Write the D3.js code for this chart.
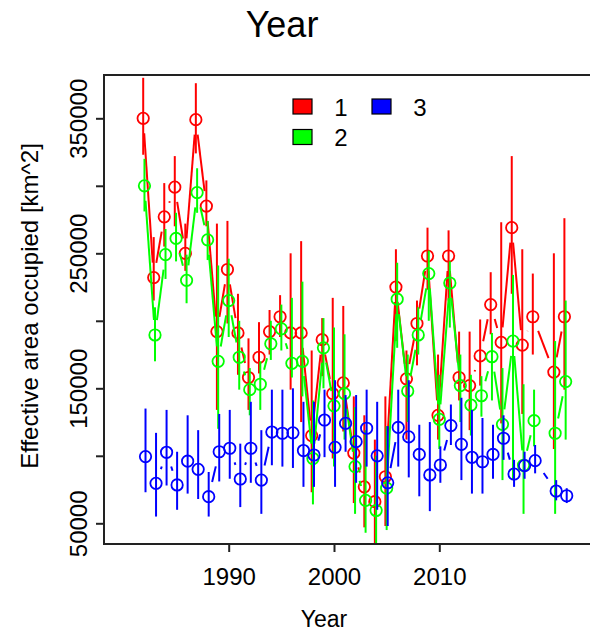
<!DOCTYPE html>
<html>
<head>
<meta charset="utf-8">
<script src="https://cdn.jsdelivr.net/npm/d3@7"></script>
<style>
  body { margin: 0; background: #fff; }
  svg { display: block; font-family: "Liberation Sans", Arial, sans-serif; }
</style>
</head>
<body>
<div id="chart"></div>
<script>
// values in thousands of km^2
const years = [1982,1983,1984,1985,1986,1987,1988,1989,1990,1991,1992,1993,1994,1995,1996,1997,1998,1999,2000,2001,
               2002,2003,2004,2005,2006,2007,2008,2009,2010,2011,2012,2013,2014,2015,2016,2017,2018,2019,2021,2022]

const area1 = [350,232,277,299,250,349,285,192,238,191,158,173,192,203,191,191,115,186,146,154,
               102,77,66,84.5,225,157,198,248,130,248,158,152,174,212,184,269,182,203,162,203]
const lo1 = [323,215,255,270,237,324,270,134,198,160,134,161,175,188,149,125,73,159,98,118,
             65,47,35,48,185,112,167,223,112,215,141,119,152,190,124,220,131,175,105,149]
const hi1 = [380,262,302,322,272,376,304,272,274,220,187,199,208,219,250,259,178,202,217,211,
             144,130,112,144,253,178,215,269,175,267,192,192,201,236,273,322,253,235,250,276]

const area2 = [300,189.5,249,261,230,295,260,170,215,173,149,153,183,194,168.5,170,98,180,137,146,
               92,67,59.5,76,216,148,189.5,235,127,228,152,137.6,144.5,173.4,123.3,185,93,126,116.7,155]
const lo2 = [281,170,231,244,213,280,245,120,188,149,130,134,171,178,158,144,64,150,92,112,
             57,43,35,45,180,125,175,200,105,195,125,115,129,141,82,82,57,107,57,112]
const hi2 = [320,210,268,280,249,313,274,241,246,200,165,170,200,212,217,229,141,202,195,190,
             136,119,100,122,243,175,210,252,160,244,175,160,159,191,165,234,153,149,185,215]

const area3 = [99.4,79.6,102.6,78.4,96,90,69.7,103,105.6,82.8,105.6,82,117.6,116.7,117,103.9,100.6,126.5,106.3,124,
               110.5,120.4,100,80,121,114,101,85.8,93.2,122.4,108.5,98.9,95.6,101,113,86.5,92.7,96.4,73.9,70.4]
const lo3 = [73,55,78,60,72,68,55,81,83,62,80,57,93,92,91,77,77,99,77,103,
             80,92,60,48,92,84,70,59,80,108,82,72,72,83,97,77,83,87,67,65]
const hi3 = [135,117,134,103,130,119,88,131,134,109,140,119,149,149,150,140,140,149,156,145,
             145,149,140,122,149,156,123,125,107,138,143,134,128,123,130,97,103,108,82,76]

const seriesNames = ['1', '2', '3']
const seriesColors = ['#ff0000', '#00ff00', '#0000ff']
const xTicks = [1990, 2000, 2010]
const yTicks = [50, 100, 150, 200, 250, 300, 350]
const yLabelled = [50, 150, 250, 350]

let width = 590
let height = 632
let box = { left: 104, top: 75, bottom: 544, right: 610 }

let svg = d3.select('#chart')
    .append('svg')
    .attr('width', width)
    .attr('height', height)

let xScale = d3.scaleLinear()
    .domain([1990, 2010])
    .range([228.7, 439.3])

let yScale = d3.scaleLinear()
    .domain([50, 350])
    .range([523.3, 118.3])

let series = [
    { name: seriesNames[0], color: seriesColors[0], v: area1, lo: lo1, hi: hi1, dx: -0.12 },
    { name: seriesNames[1], color: seriesColors[1], v: area2, lo: lo2, hi: hi2, dx: 0 },
    { name: seriesNames[2], color: seriesColors[2], v: area3, lo: lo3, hi: hi3, dx: 0.1 }
]

let plot = svg.append('g')

// lines drawn like R type="b": segments stop short of the points
let gap = 15
series.forEach(s => {
    let g = plot.append('g')
    let pts = years.map((yr, i) => [xScale(yr + s.dx), yScale(s.v[i])])

    let segs = []
    for (let i = 0; i < pts.length - 1; i++) {
        let [x1, y1] = pts[i]
        let [x2, y2] = pts[i + 1]
        let d = Math.hypot(x2 - x1, y2 - y1)
        if (d <= 2 * gap) continue
        let ux = (x2 - x1) / d, uy = (y2 - y1) / d
        segs.push([x1 + ux * gap, y1 + uy * gap, x2 - ux * gap, y2 - uy * gap])
    }
    g.selectAll('line.seg')
        .data(segs)
        .join('line')
        .attr('x1', d => d[0]).attr('y1', d => d[1])
        .attr('x2', d => d[2]).attr('y2', d => d[3])
        .attr('stroke', s.color)
        .attr('stroke-width', 2)

    g.selectAll('circle')
        .data(years)
        .join('circle')
        .attr('cx', (yr, i) => pts[i][0])
        .attr('cy', (yr, i) => pts[i][1])
        .attr('r', 5.7)
        .attr('fill', 'none')
        .attr('stroke', s.color)
        .attr('stroke-width', 1.8)

    g.selectAll('line.err')
        .data(years)
        .join('line')
        .attr('class', 'err')
        .attr('x1', (yr, i) => pts[i][0])
        .attr('x2', (yr, i) => pts[i][0])
        .attr('y1', (yr, i) => yScale(s.lo[i]))
        .attr('y2', (yr, i) => yScale(s.hi[i]))
        .attr('stroke', s.color)
        .attr('stroke-width', 2)
})

// frame
svg.append('rect')
    .attr('x', box.left)
    .attr('y', box.top)
    .attr('width', box.right - box.left)
    .attr('height', box.bottom - box.top)
    .attr('fill', 'none')
    .attr('stroke', '#222')
    .attr('stroke-width', 2)

// axes
let xAxis = d3.axisBottom(xScale)
    .tickValues(xTicks)
    .tickSize(8)
    .tickPadding(16)
    .tickFormat(d3.format('d'))

let xAxisEl = svg.append('g')
    .attr('transform', `translate(0,${box.bottom})`)
    .call(xAxis)
xAxisEl.select('.domain').remove()
xAxisEl.selectAll('line').attr('stroke', '#222').attr('stroke-width', 2)
xAxisEl.selectAll('text')
    .attr('font-size', 24)
    .attr('font-family', '"Liberation Sans", Arial, sans-serif')
    .attr('fill', '#000')

let yAxis = d3.axisLeft(yScale)
    .tickValues(yTicks)
    .tickSize(8)
    .tickFormat(d => yLabelled.includes(d) ? String(d * 1000) : '')

let yAxisEl = svg.append('g')
    .attr('transform', `translate(${box.left},0)`)
    .call(yAxis)
yAxisEl.select('.domain').remove()
yAxisEl.selectAll('line').attr('stroke', '#222').attr('stroke-width', 2)
yAxisEl.selectAll('text')
    .attr('font-size', 24)
    .attr('font-family', '"Liberation Sans", Arial, sans-serif')
    .attr('fill', '#000')
    .attr('x', 0).attr('dy', 0)
    .attr('text-anchor', 'middle')
    .attr('transform', 'translate(-17,0) rotate(-90)')

// titles
svg.append('text')
    .attr('x', 282)
    .attr('y', 37)
    .attr('text-anchor', 'middle')
    .attr('font-size', 36)
    .text('Year')

svg.append('text')
    .attr('x', 324)
    .attr('y', 627)
    .attr('text-anchor', 'middle')
    .attr('font-size', 23)
    .text('Year')

svg.append('text')
    .attr('transform', 'translate(38,306) rotate(-90)')
    .attr('text-anchor', 'middle')
    .attr('font-size', 24)
    .text('Effective area occupied [km^2]')

// legend
let legendPos = [[293, 99], [293, 129.5], [372, 99]]
let legend = svg.append('g')
series.forEach((s, i) => {
    let [lx, ly] = legendPos[i]
    legend.append('rect')
        .attr('x', lx).attr('y', ly)
        .attr('width', 19).attr('height', 15)
        .attr('fill', s.color)
        .attr('stroke', '#000')
        .attr('stroke-width', 1.2)
    legend.append('text')
        .attr('x', lx + 48).attr('y', ly + 16.5)
        .attr('text-anchor', 'middle')
        .attr('font-size', 24)
        .text(s.name)
})
</script>
</body>
</html>
